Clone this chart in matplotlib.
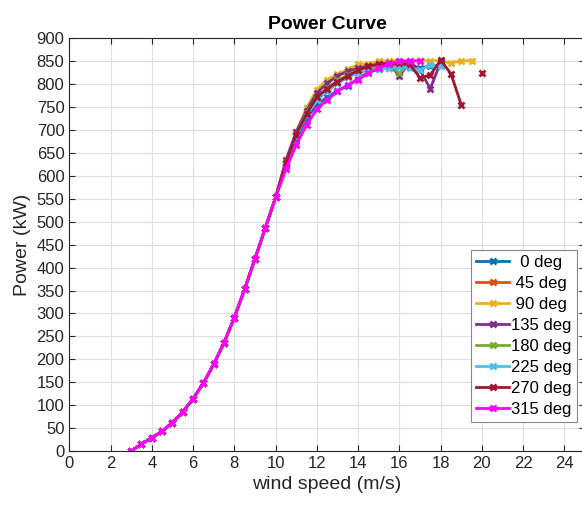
import numpy as np
import matplotlib
matplotlib.use("Agg")
import matplotlib.pyplot as plt

plt.rcParams['font.family'] = ['Liberation Sans', 'DejaVu Sans']

# wind speed grid (m/s)
wind_low = [3, 3.5, 4, 4.5, 5, 5.5, 6, 6.5, 7, 7.5, 8, 8.5, 9, 9.5, 10]
wind_high = [10.5, 11, 11.5, 12, 12.5, 13, 13.5, 14, 14.5, 15, 15.5,
             16, 16.5, 17, 17.5, 18, 18.5, 19, 19.5, 20]

# shared part of the curve (kW), same for all directions below 10 m/s
power_low = [0, 15, 29, 43, 62, 85, 114, 148, 189, 236, 291, 353, 419, 486, 553]

# direction-specific part (kW) from 10.5 m/s on
p_0 = [622, 680, 725, 755, 772, 786, 797, 812, 826, 832, 836, 840, 838, 835, 840]
p_45 = [625, 688, 735, 765, 785, 802, 815, 827, 835, 840, 843, 845, 846]
p_90 = [632, 696, 748, 788, 810, 822, 832, 843, 845, 850, 851, 851, 851, 851, 851,
        851, 846, 851, 851]
p_135 = [634, 696, 742, 781, 802, 818, 828, 835, 840, 843, 846, 817, 848, 831, 790, 848]
p_180 = [628, 690, 738, 770, 792, 808, 820, 830, 836, 838, 843, 824, 845]
p_225 = [626, 686, 733, 765, 786, 803, 815, 825, 830, 833, 835, 838, 836, 830, 842, 840]
p_270 = [628, 690, 735, 772, 790, 805, 818, 830, 840, 843, 845, 846, 843, 814, 820, 852,
         823, 755, np.nan, 824]
p_315 = [614, 667, 711, 745, 766, 784, 798, 810, 824, 835, 845, 850, 851, 851]

labels = ['0 deg', '45 deg', '90 deg', '135 deg', '180 deg', '225 deg', '270 deg', '315 deg']
tails = [p_0, p_45, p_90, p_135, p_180, p_225, p_270, p_315]
colors = ['#0072BD', '#D95319', '#EDB120', '#7E2F8E', '#77AC30', '#4DBEEE', '#A2142F', '#FF00FF']

W, H = 582, 507
fig = plt.figure(figsize=(W / 100, H / 100), dpi=100)
ax = fig.add_axes([69.3 / W, 1 - 451 / H, (585 - 69.3) / W, (451 - 38.3) / H])

for lab, tail, c in zip(labels, tails, colors):
    x = wind_low + wind_high[:len(tail)]
    y = power_low + list(tail)
    # MATLAB centres legend text: pad shorter labels
    pad = ' ' * (2 * (7 - len(lab)) // 2)
    ax.plot(x, y, color=c, lw=2, marker='x', ms=4, mew=2, label=pad + lab)

ax.set_xlim(0, 25)
ax.set_ylim(0, 900)
ax.set_xticks(np.arange(0, 25, 2))
ax.set_yticks(np.arange(0, 901, 50))
ax.grid(True, color='#dedede', lw=0.8)
ax.set_axisbelow(True)
ax.tick_params(direction='in', top=True, right=True, labelsize=12,
               colors='#262626', length=4)
for s in ax.spines.values():
    s.set_color('#262626')
    s.set_linewidth(0.8)

ax.set_title('Power Curve', fontsize=14, fontweight='bold', pad=7)
ax.set_xlabel('wind speed (m/s)', fontsize=14, color='#262626')
ax.set_ylabel('Power (kW)', fontsize=14, color='#262626')

leg = ax.legend(loc='lower right', bbox_to_anchor=(576.7 / W, 1 - 421.7 / H),
                bbox_transform=fig.transFigure, borderaxespad=0, fontsize=12,
                fancybox=False, framealpha=1, edgecolor='#888888',
                handlelength=2.0, labelspacing=0.36, handletextpad=0.1,
                borderpad=0.3)
leg.get_frame().set_linewidth(0.8)

fig.savefig('out.png', dpi=100)
